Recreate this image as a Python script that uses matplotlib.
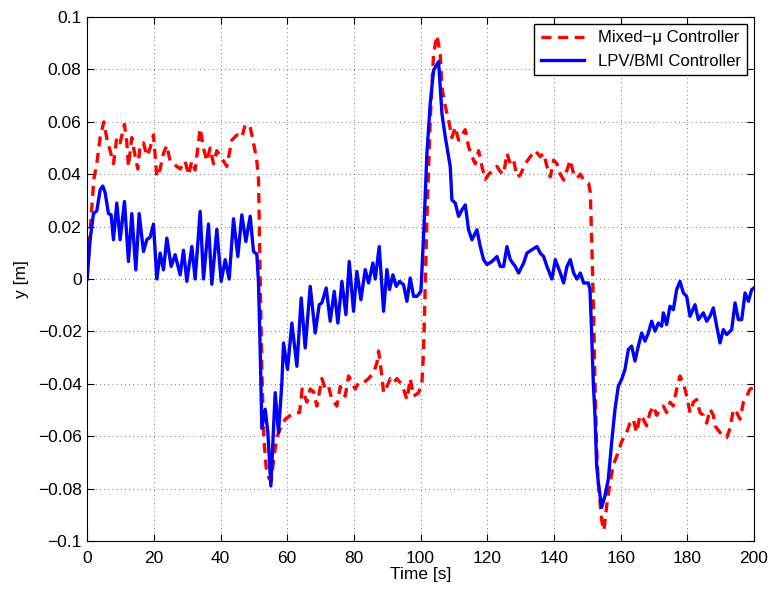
import matplotlib
matplotlib.use("Agg")
import matplotlib.pyplot as plt

t_mixed = [0, 1, 2, 3, 3.9, 5, 6, 6.9, 7.9, 8.9, 9.9, 11.2, 11.9, 12.4, 13.4, 14.4, 15.2, 15.9,
           16.9, 17.9, 18.9, 19.9, 20.9, 21.9, 22.9, 23.9, 24.9, 26.4, 27.9, 29.4, 30.4, 31.4,
           32.4, 33.9, 34.9, 35.9, 36.9, 37.9, 38.9, 40.4, 41.9, 43.4, 44.9, 46.4, 47.4, 48.9,
           49.9, 50.9, 51.4, 51.9, 52.4, 53, 53.7, 54.5, 55.2, 56, 57, 58, 59.4, 61, 62.4, 63.7,
           64.5, 65.9, 66.9, 67.9, 68.9, 70.4, 71.4, 72.4, 73.4, 74.9, 75.9, 77.4, 78.4, 79.4,
           80.4, 81.4, 82.9, 84.4, 85.9, 86.9, 87.4, 88.4, 88.9, 89.9, 90.9, 91.9, 92.9, 93.9,
           94.9, 95.9, 96.9, 97.9, 99.4, 100.4, 100.9, 101.4, 101.9, 102.9, 103.9, 104.9, 105.9,
           106.4, 107.4, 108.4, 109.4, 110.4, 111.4, 112.4, 113.4, 114.4, 115.4, 116.4, 117.4,
           118.4, 119.4, 120.4, 121.9, 122.9, 123.9, 124.9, 125.9, 126.9, 127.9, 128.9, 129.9,
           131.4, 132.9, 134.4, 135.9, 136.9, 137.9, 138.9, 139.9, 140.9, 141.9, 142.9, 143.9,
           144.9, 145.9, 146.9, 147.9, 148.9, 150.4, 150.9, 151.4, 151.9, 152.3, 152.8, 153.3,
           154.3, 155, 155.8, 156.8, 157.8, 159.3, 160.3, 161.8, 162.8, 163.8, 164.8, 165.8,
           166.8, 167.8, 168.8, 169.8, 170.8, 171.8, 172.8, 173.8, 174.8, 175.8, 176.8, 177.8,
           178.8, 179.8, 180.8, 181.8, 182.8, 183.8, 184.8, 185.8, 186.8, 187.8, 188.3, 189.8,
           190.8, 191.8, 192.8, 193.8, 194.8, 195.8, 196.8, 197.8, 198.8, 199.8]
y_mixed = [0, 0.02, 0.038, 0.045, 0.054, 0.06, 0.053, 0.049, 0.044, 0.054, 0.052, 0.059, 0.052,
           0.043, 0.054, 0.047, 0.042, 0.051, 0.052, 0.047, 0.05, 0.055, 0.039, 0.042, 0.048,
           0.051, 0.045, 0.0435, 0.042, 0.045, 0.0397, 0.045, 0.0416, 0.0575, 0.05, 0.045, 0.05,
           0.044, 0.049, 0.046, 0.043, 0.053, 0.055, 0.054, 0.059, 0.058, 0.052, 0.045, 0.038,
           0.0, -0.035, -0.061, -0.072, -0.076, -0.077, -0.068, -0.06, -0.057, -0.0535, -0.052,
           -0.051, -0.051, -0.042, -0.047, -0.042, -0.043, -0.0485, -0.038, -0.042, -0.041,
           -0.046, -0.0485, -0.041, -0.0447, -0.037, -0.0396, -0.042, -0.0396, -0.0396, -0.038,
           -0.0358, -0.032, -0.0275, -0.037, -0.0434, -0.041, -0.038, -0.0396, -0.038, -0.0396,
           -0.042, -0.046, -0.038, -0.0447, -0.0434, -0.0396, -0.027, -0.0015, 0.0226, 0.061,
           0.086, 0.093, 0.086, 0.073, 0.066, 0.0607, 0.054, 0.058, 0.053, 0.055, 0.057, 0.0505,
           0.0467, 0.044, 0.049, 0.043, 0.038, 0.04, 0.0416, 0.043, 0.041, 0.04, 0.048, 0.044,
           0.0454, 0.039, 0.0397, 0.044, 0.0467, 0.049, 0.0467, 0.048, 0.043, 0.039, 0.0454,
           0.044, 0.04, 0.0378, 0.0416, 0.0454, 0.04, 0.0385, 0.04, 0.0378, 0.0365, 0.033,
           0.011, -0.014, -0.04, -0.065, -0.078, -0.092, -0.096, -0.0866, -0.078, -0.071, -0.066,
           -0.062, -0.0586, -0.055, -0.0535, -0.0586, -0.052, -0.0535, -0.056, -0.051, -0.0485,
           -0.052, -0.0497, -0.0485, -0.051, -0.047, -0.0485, -0.042, -0.037, -0.0396, -0.0447,
           -0.051, -0.047, -0.046, -0.051, -0.052, -0.055, -0.0497, -0.052, -0.056, -0.0586,
           -0.06, -0.0605, -0.057, -0.0497, -0.051, -0.0535, -0.047, -0.0447, -0.042, -0.0415]

t_lpv = [0, 0.9, 1.9, 2.9, 3.9, 4.7, 5.4, 6.4, 7.2, 7.9, 8.9, 9.9, 11.2, 12.4, 13.4, 14.6, 15.6,
         16.9, 17.9, 18.9, 19.9, 20.9, 21.9, 22.9, 23.9, 25.2, 26.4, 27.9, 28.9, 29.9, 31.4,
         32.4, 33.9, 34.9, 36.4, 37.4, 38.9, 40.2, 41.4, 42.6, 43.9, 45.2, 46.4, 47.6, 48.9,
         49.9, 50.9, 51.4, 51.9, 52.4, 53.4, 54.2, 55.1, 56.4, 57.4, 58.4, 58.9, 60.1, 61.4,
         62.9, 64.2, 65.4, 66.9, 68.4, 69.6, 70.4, 71.7, 72.9, 74.1, 75.2, 76.4, 77.6, 78.6,
         79.9, 80.9, 82.1, 83.4, 84.4, 85.7, 86.4, 87.6, 88.9, 89.9, 90.7, 91.7, 92.7, 93.7,
         94.9, 95.9, 96.9, 97.9, 98.9, 100.1, 100.9, 101.9, 102.9, 103.9, 105.4, 106.4, 107.4,
         108.4, 108.9, 109.4, 110.4, 111.4, 112.4, 113.4, 114.4, 115.4, 116.9, 117.9, 118.9,
         119.9, 121.4, 122.9, 123.9, 124.9, 125.9, 126.9, 128.4, 129.4, 130.9, 131.9, 133.4,
         134.9, 135.9, 136.9, 137.9, 139.4, 140.4, 141.9, 142.9, 143.9, 144.9, 145.9, 146.9,
         147.9, 148.9, 150.3, 150.8, 151.3, 151.8, 152.3, 152.8, 153.3, 154.3, 155.3, 156.3,
         157.3, 158.3, 159.3, 160.3, 161.3, 162.3, 163.3, 164.3, 165.3, 166.3, 167.3, 168.3,
         169.3, 170.3, 171.3, 172.3, 172.8, 173.8, 174.8, 175.8, 176.8, 177.8, 178.8, 179.8,
         180.8, 182.3, 183.3, 184.8, 185.8, 186.8, 187.8, 188.8, 189.8, 190.8, 191.8, 193.3,
         194.3, 195.3, 196.3, 197.3, 198.3, 199.3, 200]
y_lpv = [0, 0.015, 0.025, 0.026, 0.034, 0.0355, 0.033, 0.025, 0.0245, 0.015, 0.029, 0.015,
         0.0296, 0.0067, 0.025, 0.0035, 0.025, 0.0105, 0.015, 0.016, 0.021, 0.0, 0.0099, 0.0035,
         0.0156, 0.0048, 0.0093, 0.0016, 0.011, -0.0009, 0.0124, 0.0, 0.0258, 0.0, 0.021,
         -0.002, 0.019, -0.0009, 0.0074, 0.0, 0.023, 0.0086, 0.0245, 0.0143, 0.024, 0.0105,
         0.0095, -0.0015, -0.027, -0.057, -0.0497, -0.0586, -0.079, -0.0434, -0.0586, -0.0396,
         -0.0244, -0.0345, -0.0168, -0.0333, -0.0072, -0.0263, -0.0028, -0.0206, -0.0098,
         -0.0091, -0.0034, -0.0161, -0.0047, -0.0168, -0.0009, -0.0136, 0.0067, -0.0123, 0.0029,
         -0.0079, 0.0036, -0.0015, 0.0061, 0.0, 0.0124, -0.0123, 0.0036, -0.004, 0.0016,
         -0.0028, -0.0009, -0.0022, -0.0085, 0.0004, -0.0066, -0.0066, -0.0047, 0.0162, 0.048,
         0.067, 0.0797, 0.083, 0.0632, 0.0543, 0.0467, 0.0429, 0.0302, 0.029, 0.0239, 0.0264,
         0.0283, 0.0188, 0.015, 0.0188, 0.0124, 0.0074, 0.0055, 0.0067, 0.0086, 0.0048, 0.0048,
         0.0124, 0.0074, 0.0048, 0.0023, 0.0061, 0.0099, 0.0112, 0.0124, 0.0099, 0.0086, 0.0048,
         0.0, 0.0074, 0.0023, -0.0015, 0.0048, 0.0074, 0.0023, 0.0, 0.0023, -0.0015, -0.0015,
         -0.004, -0.0206, -0.0396, -0.052, -0.071, -0.0777, -0.0872, -0.0827, -0.0764, -0.0624,
         -0.0497, -0.0409, -0.0383, -0.0345, -0.0269, -0.0256, -0.0313, -0.0256, -0.0206,
         -0.0237, -0.0206, -0.0161, -0.0199, -0.0168, -0.018, -0.0129, -0.0174, -0.0104,
         -0.0117, -0.004, -0.0009, -0.0053, -0.0066, -0.0142, -0.0098, -0.0155, -0.0129,
         -0.0161, -0.0142, -0.011, -0.018, -0.0244, -0.0193, -0.0212, -0.0193, -0.0091, -0.0155,
         -0.0155, -0.0053, -0.0085, -0.004, -0.0034]

plt.rcParams['font.family'] = ['Liberation Sans', 'DejaVu Sans']

fig = plt.figure(figsize=(7.71, 5.89), dpi=100)
ax = fig.add_axes([0.113, 0.0815, 0.865, 0.8895])

ax.plot(t_mixed, y_mixed, color='red', linestyle=(0, (3, 2)), linewidth=2.4,
        label='Mixed\u2212\u03bc Controller')
ax.plot(t_lpv, y_lpv, color='blue', linewidth=2.4, label='LPV/BMI Controller')

ax.set_xlim(0, 200)
ax.set_ylim(-0.1, 0.1)
ax.set_xticks(range(0, 201, 20))
ax.set_yticks([-0.1, -0.08, -0.06, -0.04, -0.02, 0, 0.02, 0.04, 0.06, 0.08, 0.1])
ax.set_yticklabels(['\u22120.1', '\u22120.08', '\u22120.06', '\u22120.04', '\u22120.02', '0',
                    '0.02', '0.04', '0.06', '0.08', '0.1'])
ax.tick_params(direction='in', top=True, right=True, labelsize=12.5, length=5, pad=4)
ax.tick_params(axis='x', pad=7)
ax.grid(True, color='black', linestyle=(0, (1, 4)), linewidth=0.6, alpha=0.7)
ax.set_xlabel('Time [s]', fontsize=12.5, labelpad=1)
ax.set_ylabel('y [m]', fontsize=12.5, labelpad=6)

leg = ax.legend(loc='upper right', fontsize=12, fancybox=False, framealpha=1,
                edgecolor='black', borderaxespad=0.4, handlelength=2.6)
leg.get_frame().set_linewidth(1.0)

fig.savefig('out.png', dpi=100)
